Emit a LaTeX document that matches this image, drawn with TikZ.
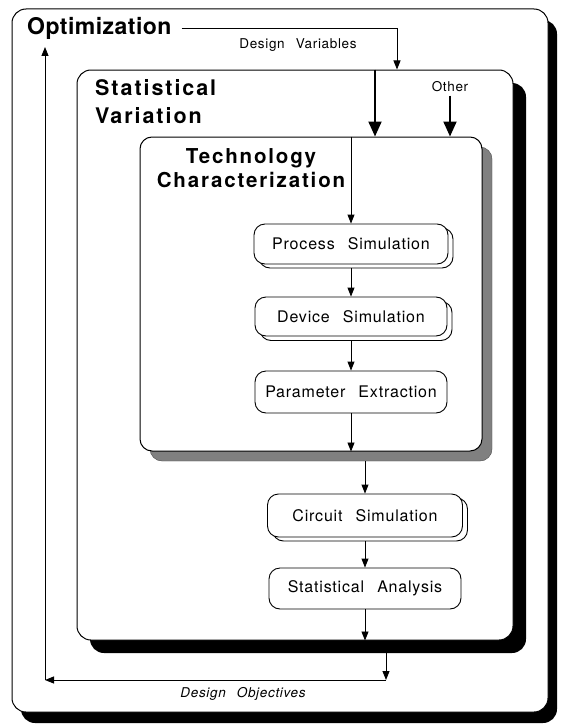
\documentclass[tikz,border=0pt]{standalone}
\usepackage{fontspec}
\setmainfont{TeX Gyre Heros}
\newfontfamily\optfont[LetterSpace=2]{TeX Gyre Heros}
\newfontfamily\titlefont[LetterSpace=9]{TeX Gyre Heros}
\newfontfamily\boxfont[LetterSpace=5,WordSpace=2.5]{TeX Gyre Heros}
\usepackage{tikz}
\usetikzlibrary{arrows.meta,positioning}

\begin{document}
\begin{tikzpicture}[x=1pt, y=-1pt,
  panel/.style={draw, line width=1pt, fill=white, rounded corners=14pt, inner sep=0pt},
  darkshadow/.style={fill=black, rounded corners=14pt, inner sep=0pt},
  greyshadow/.style={fill=black!50, draw=black!70, rounded corners=12pt, inner sep=0pt},
  stepbox/.style={draw, line width=0.9pt, fill=white, rounded corners=11pt, inner sep=0pt,
    font=\boxfont\fontsize{16}{16}\selectfont},
  stepshadow/.style={draw, line width=0.9pt, fill=white, rounded corners=11pt, inner sep=0pt},
  flow/.style={-{Triangle[width=7pt,length=9pt]}, line width=0.9pt},
  bigflow/.style={-{Triangle[width=13pt,length=15pt]}, line width=2pt},
  small/.style={font=\boxfont\fontsize{13.5}{13.5}\selectfont}]
\useasboundingbox[fill=white] (0,0) rectangle (560,725);

% Outer frame: the optimization loop
\node[darkshadow, minimum width=536pt, minimum height=703pt] (optshadow) at (289, 371.5) {};
\node[panel, minimum width=536pt, minimum height=703pt] (opt) at (280, 360.5) {};
\node[anchor=base west, inner sep=0pt, font=\optfont\bfseries\fontsize{23}{23}\selectfont] (optlbl) at (27, 35) {Optimization};

% Statistical variation frame
\node[darkshadow, minimum width=436pt, minimum height=570pt] (statshadow) at (308, 368) {};
\node[panel, minimum width=436pt, minimum height=570pt] (stat) at (295, 355) {};
\node[anchor=base west, inner sep=0pt, font=\titlefont\bfseries\fontsize{21.5}{21.5}\selectfont] (statlbl) at (95, 95) {Statistical};
\node[anchor=base west, inner sep=0pt, font=\titlefont\bfseries\fontsize{21.5}{21.5}\selectfont] (varlbl) at (95, 123) {Variation};

% Technology characterization frame
\node[greyshadow, minimum width=342pt, minimum height=314pt] (techshadow) at (321, 304) {};
\node[panel, rounded corners=12pt, minimum width=342pt, minimum height=314pt] (tech) at (311, 294) {};
\node[anchor=base, inner sep=0pt, font=\titlefont\bfseries\fontsize{20.5}{20.5}\selectfont] (techlbl) at (251, 163) {Technology};
\node[anchor=base, inner sep=0pt, font=\titlefont\bfseries\fontsize{20.5}{20.5}\selectfont] (charlbl) at (251, 187) {Characterization};

% Simulation steps
\node[stepshadow, minimum width=194pt, minimum height=40pt] (procshadow) at (356, 248) {};
\node[stepbox, minimum width=194pt, minimum height=40pt] (proc) at (351, 244) {Process Simulation};
\node[stepshadow, minimum width=192pt, minimum height=39pt] (devshadow) at (356, 321) {};
\node[stepbox, minimum width=192pt, minimum height=39pt] (dev) at (351, 316.5) {Device Simulation};
\node[stepbox, minimum width=192pt, minimum height=42pt] (param) at (351, 392) {Parameter Extraction};
\node[stepshadow, minimum width=195pt, minimum height=43pt] (circshadow) at (370, 519.5) {};
\node[stepbox, minimum width=195pt, minimum height=43pt] (circ) at (365, 515.5) {Circuit Simulation};
\node[stepbox, minimum width=192pt, minimum height=41pt] (anal) at (365, 588.5) {Statistical Analysis};

% Inputs from the top
\coordinate (dvcol) at (397, 0);
\coordinate (svcol) at (375, 0);
\node[small] (dvlbl) at (298, 45) {Design Variables};
\node[small] (otherlbl) at (450, 87) {Other};
\draw[flow] ([xshift=10pt]optlbl.east) -- (optlbl.east -| dvcol) -- (dvcol |- stat.north);
\draw[bigflow] (svcol |- stat.north) -- (svcol |- tech.north);
\draw[bigflow] (otherlbl.south) -- (otherlbl.south |- tech.north);

% Chain of steps
\draw[flow] (proc.north |- tech.north) -- (proc.north);
\draw[flow] (procshadow.south -| dev.north) -- (dev.north);
\draw[flow] (devshadow.south -| param.north) -- (param.north);
\draw[flow] (param.south) -- (param.south |- tech.south);
\draw[flow] (techshadow.south -| circ.north) -- (circ.north);
\draw[flow] (circshadow.south -| anal.north) -- (anal.north);
\draw[flow] (anal.south) -- (anal.south |- stat.south);

% Feedback: design objectives
\coordinate (objR) at (386, 680);
\coordinate (objL) at (45, 680);
\coordinate (optin) at (45, 47);
\draw[flow] (statshadow.south -| objR) -- (objR);
\draw[flow] (objR) -- (objL);
\draw[flow] (objL) -- (optin);
\node[small, font=\boxfont\itshape\fontsize{13.5}{13.5}\selectfont] (objlbl) at (243, 694) {Design Objectives};

\end{tikzpicture}
\end{document}
